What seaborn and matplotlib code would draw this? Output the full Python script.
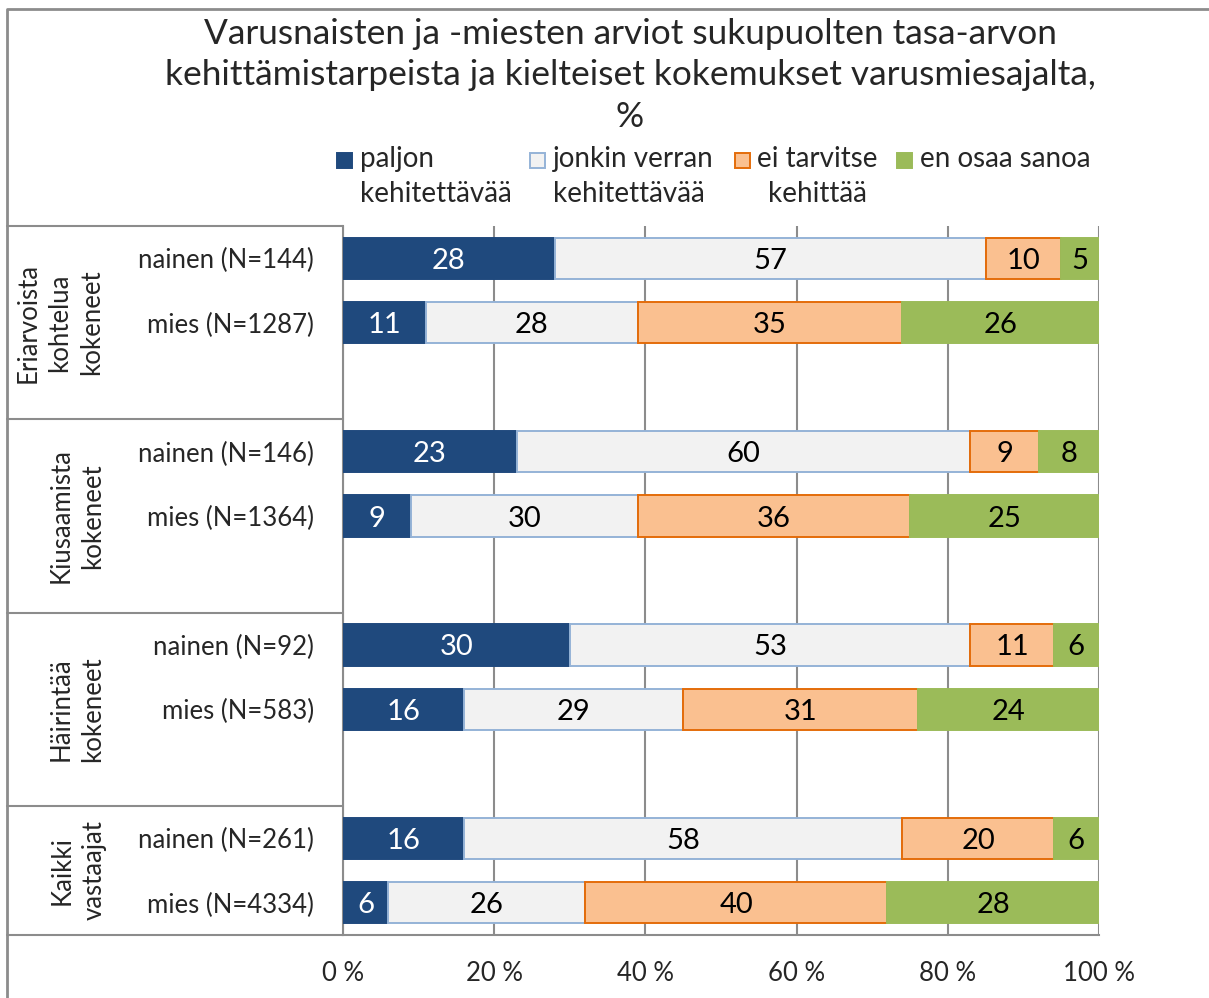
import matplotlib
matplotlib.use("Agg")
import matplotlib.pyplot as plt
import seaborn as sns
from matplotlib.patches import Rectangle
from matplotlib.transforms import blended_transform_factory

# ─── Data ─────────────────────────────────────────────────────────────────────
title = ("Varusnaisten ja -miesten arviot sukupuolten tasa-arvon\n"
         "kehittämistarpeista ja kielteiset kokemukset varusmiesajalta,\n%")
groups = ["Eriarvoista\nkohtelua\nkokeneet", "Kiusaamista\nkokeneet",
          "Häirintää\nkokeneet", "Kaikki\nvastaajat"]
rows = ["nainen (N=144)", "mies (N=1287)",
        "nainen (N=146)", "mies (N=1364)",
        "nainen (N=92)", "mies (N=583)",
        "nainen (N=261)", "mies (N=4334)"]
series = ["paljon\nkehitettävää", "jonkin verran\nkehitettävää",
          "ei tarvitse\nkehittää", "en osaa sanoa"]
paljon = [28, 11, 23, 9, 30, 16, 16, 6]
jonkin = [57, 28, 60, 30, 53, 29, 58, 26]
ei_tarvitse = [10, 35, 9, 36, 11, 31, 20, 40]
en_osaa = [5, 26, 8, 25, 6, 24, 6, 28]
xticks = [0, 20, 40, 60, 80, 100]

# ─── Style ────────────────────────────────────────────────────────────────────
sns.set_style("white")
plt.rcParams["font.family"] = ["Lato", "DejaVu Sans"]

W, H = 1209, 998
GRID = "#8C8C8C"
fills = ["#1F497D", "#F2F2F2", "#FAC090", "#9BBB59"]
edges = ["#1F497D", "#95B3D7", "#E46C0A", "#9BBB59"]
txt_colors = ["white", "black", "black", "black"]

# row slots: two bars per group and an empty slot between groups
positions = [0, 1, 3, 4, 6, 7, 9, 10]

fig = plt.figure(figsize=(W / 100, H / 100), dpi=100)
ax = fig.add_axes([343 / W, 1 - 935 / H, (1099 - 343) / W, (935 - 226) / H])

left = [0] * len(rows)
for vals, fc, ec, tc in zip([paljon, jonkin, ei_tarvitse, en_osaa], fills, edges, txt_colors):
    n_before = len(ax.patches)
    sns.barplot(x=vals, y=positions, orient="h", native_scale=True, width=0.64,
                color=fc, saturation=1, edgecolor=ec, linewidth=1.4,
                errorbar=None, ax=ax, zorder=3)
    for p, l in zip(ax.patches[n_before:], left):
        p.set_x(l)
    for pos, l, v in zip(positions, left, vals):
        ax.text(l + v / 2, pos, f"{v}", ha="center", va="center_baseline",
                fontsize=21, color=tc, zorder=4)
    left = [l + v for l, v in zip(left, vals)]

ax.set_xlim(0, 100)
ax.set_ylim(10.5, -0.5)
ax.set_xticks(xticks)
ax.set_xticklabels([f"{t} %" for t in xticks], fontsize=18.5)
ax.set_yticks([])
ax.set_xlabel("")
ax.set_ylabel("")
ax.tick_params(axis="x", length=0, pad=19)
ax.grid(axis="x", color=GRID, linewidth=1.5, zorder=0)
ax.set_axisbelow(True)
for s in ["top", "right"]:
    ax.spines[s].set_visible(False)
for s in ["left", "bottom"]:
    ax.spines[s].set_color(GRID)
    ax.spines[s].set_linewidth(1.5)

# ─── Left-hand table ──────────────────────────────────────────────────────────
tr = blended_transform_factory(fig.transFigure, ax.transData)
for yb in [-0.5, 2.5, 5.5, 8.5, 10.5]:
    ax.plot([7 / W, 343 / W], [yb, yb], color=GRID, lw=1.5,
            transform=tr, clip_on=False)

for pos, name in zip(positions, rows):
    ax.text(314 / W, pos, name, transform=tr, ha="right", va="center_baseline",
            fontsize=18.5)

group_spans = [(-0.5, 2.5), (2.5, 5.5), (5.5, 8.5), (8.5, 10.5)]
group_x = [60, 77, 77, 78]
for g, (y0, y1), gx in zip(groups, group_spans, group_x):
    ax.text(gx / W, (y0 + y1) / 2, g, transform=tr, rotation=90,
            ha="center", va="center", multialignment="center",
            fontsize=18.5, linespacing=1.35)

# ─── Figure frame, title, legend ──────────────────────────────────────────────
fig.add_artist(plt.Line2D([7 / W, 7 / W, 1], [0, 1 - 9 / H, 1 - 9 / H],
                          color=GRID, lw=2, transform=fig.transFigure))

fig.text(630 / W, 1 - 18 / H, title, ha="center", va="top",
         fontsize=25.4, linespacing=1.36)

leg_sq_x = [337, 530, 735, 897]
leg_tx_x = [360, 553, 757, 920]
for lab, fc, ec, sx, tx in zip(series, fills, edges, leg_sq_x, leg_tx_x):
    fig.add_artist(Rectangle((sx / W, 1 - 168 / H), 15 / W, 15 / H,
                             facecolor=fc, edgecolor=ec, lw=1.4,
                             transform=fig.transFigure))
    fig.text(tx / W, 1 - 146 / H, lab, ha="left", va="top",
             multialignment="center" if "ei tarvitse" in lab else "left",
             fontsize=20, linespacing=1.43)

fig.savefig("out.png", dpi=100)
